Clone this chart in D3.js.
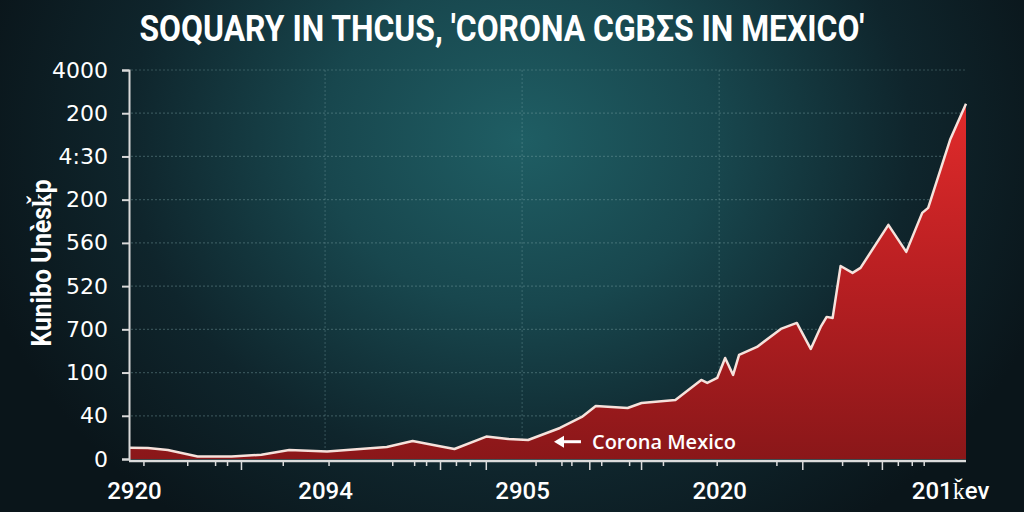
<!DOCTYPE html>
<html>
<head>
<meta charset="utf-8">
<script src="https://cdn.jsdelivr.net/npm/d3@7"></script>
<style>
  html, body { margin: 0; padding: 0; background: #0b171c; }
  svg { display: block; }
</style>
</head>
<body>
<svg id="chart" width="1024" height="512"></svg>
<script>
// ---- data ----
const titleText = "SOQUARY IN THCUS, 'CORONA CGBΣS IN MEXICO'";
const yAxisTitle = "Kunibo Unèsǩp";
const annotationText = "Corona Mexico";

const days = [0, 9, 19, 34, 51, 66, 80, 99, 129, 142,
  155, 163, 179, 190, 200, 216, 227, 234, 250, 257,
  274, 287, 290, 295, 299, 303, 306, 315, 327, 335,
  342, 347, 350, 353, 357, 363, 367, 381, 390, 398,
  401, 412, 420];
const cases = [131, 127, 104, 28, 28, 50, 104, 88, 139, 208,
  150, 116, 259, 231, 220, 359, 486, 613, 590, 648,
  683, 914, 880, 938, 1169, 972, 1204, 1296, 1505, 1574,
  1273, 1528, 1644, 1632, 2233, 2153, 2211, 2708, 2396, 2847,
  2905, 3692, 4110];

const yTickValues = [0, 500, 1000, 1500, 2000, 2500, 3000, 3500, 4000, 4500];
const yTickLabels = ["0", "40", "100", "700", "520", "560", "200", "4:30", "200", "4000"];

const xTickValues = [2, 98, 197, 296, 412];
const xTickLabels = ["2920", "2094", "2905", "2020", "201ǩev"];
const xGridValues = [98, 197, 296];
const xMinorTicks = [7, 29, 43, 49, 77, 100, 132, 143, 149, 164, 171, 204, 217, 222, 237, 251, 268, 295, 325, 358, 371, 386, 393, 399];
const xMajorTicks = [56, 156, 179, 231, 257, 338, 378];

const annotationDay = 213;
const annotationValue = 200;

// ---- layout ----
const W = 1024, H = 512;
const plot = { left: 129, right: 966, top: 70, bottom: 459 };

const svg = d3.select("#chart");
const defs = svg.append("defs");

const bg = defs.append("radialGradient").attr("id", "bg")
  .attr("gradientUnits", "userSpaceOnUse")
  .attr("cx", 520).attr("cy", 140).attr("r", 560)
  .attr("gradientTransform", "translate(520,140) scale(1,0.85) translate(-520,-140)");
bg.append("stop").attr("offset", 0).attr("stop-color", "#1f5e64");
bg.append("stop").attr("offset", 0.35).attr("stop-color", "#18474e");
bg.append("stop").attr("offset", 0.7).attr("stop-color", "#0f252c");
bg.append("stop").attr("offset", 1).attr("stop-color", "#0a151a");

const areaGrad = defs.append("linearGradient").attr("id", "areaGrad")
  .attr("gradientUnits", "userSpaceOnUse")
  .attr("x1", 0).attr("y1", 100).attr("x2", 0).attr("y2", 460);
areaGrad.append("stop").attr("offset", 0).attr("stop-color", "#e22b2b");
areaGrad.append("stop").attr("offset", 0.5).attr("stop-color", "#b81f22");
areaGrad.append("stop").attr("offset", 1).attr("stop-color", "#8a1719");

svg.append("rect").attr("width", W).attr("height", H).attr("fill", "url(#bg)");

const x = d3.scaleLinear().domain([0, 420]).range([plot.left + 1, plot.right]);
const y = d3.scaleLinear().domain([0, 4500]).range([plot.bottom, plot.top]);

// gridlines
const grid = svg.append("g");
grid.selectAll("line.h").data(yTickValues.slice(1)).join("line")
  .attr("x1", plot.left + 2).attr("x2", plot.right)
  .attr("y1", d => y(d)).attr("y2", d => y(d))
  .attr("stroke", "#7fa7a8").attr("stroke-opacity", 0.35)
  .attr("stroke-width", 1.2).attr("stroke-dasharray", "2,2");
grid.selectAll("line.v").data(xGridValues).join("line")
  .attr("x1", d => x(d)).attr("x2", d => x(d))
  .attr("y1", plot.top).attr("y2", plot.bottom)
  .attr("stroke", "#7fa7a8").attr("stroke-opacity", 0.3)
  .attr("stroke-width", 1.2).attr("stroke-dasharray", "2,2");

const data = days.map((d, i) => ({ day: d, v: cases[i] }));

const area = d3.area().x(d => x(d.day)).y0(y(0)).y1(d => y(d.v)).curve(d3.curveLinear);
const line = d3.line().x(d => x(d.day)).y(d => y(d.v)).curve(d3.curveLinear);

svg.append("path").datum(data).attr("d", area).attr("fill", "url(#areaGrad)");
svg.append("path").datum(data).attr("d", line)
  .attr("fill", "none").attr("stroke", "#f6e2dc").attr("stroke-width", 2.5)
  .attr("stroke-linejoin", "round");

// y axis
const yAxis = d3.axisLeft(y).tickValues(yTickValues)
  .tickFormat((d, i) => yTickLabels[i]).tickSize(7).tickPadding(14);
const gy = svg.append("g").attr("transform", `translate(${plot.left},0)`).call(yAxis);
gy.select(".domain").attr("stroke", "#d9d9d9").attr("stroke-width", 2);
gy.selectAll(".tick line").attr("stroke", "#d9d9d9").attr("stroke-width", 2);
gy.selectAll(".tick text").attr("fill", "#ffffff")
  .attr("font-family", "DejaVu Sans").attr("font-size", 22);

// x axis
const xBase = plot.bottom + 2;
svg.append("line").attr("x1", plot.left).attr("x2", plot.right)
  .attr("y1", xBase).attr("y2", xBase).attr("stroke", "#dcdcdc").attr("stroke-width", 2.5);
const xAxis = d3.axisBottom(x).tickValues(xTickValues)
  .tickFormat((d, i) => xTickLabels[i]).tickSize(0).tickPadding(21);
const gx = svg.append("g").attr("transform", `translate(0,${xBase})`).call(xAxis);
gx.select(".domain").remove();
gx.selectAll(".tick text").attr("fill", "#ffffff")
  .attr("font-family", "Roboto").attr("font-size", 24).attr("font-weight", 500);

svg.append("g").selectAll("line").data(xMinorTicks).join("line")
  .attr("x1", d => x(d)).attr("x2", d => x(d))
  .attr("y1", xBase).attr("y2", xBase + 5)
  .attr("stroke", "#dcdcdc").attr("stroke-width", 1.5);
svg.append("g").selectAll("line").data(xMajorTicks).join("line")
  .attr("x1", d => x(d)).attr("x2", d => x(d))
  .attr("y1", xBase).attr("y2", xBase + 9)
  .attr("stroke", "#dcdcdc").attr("stroke-width", 1.5);

// title
svg.append("text").attr("x", 502).attr("y", 41).attr("text-anchor", "middle")
  .attr("fill", "#ffffff").attr("font-family", "Roboto").attr("font-weight", 700)
  .attr("font-size", 36).attr("textLength", 725).attr("lengthAdjust", "spacingAndGlyphs")
  .text(titleText);

// y axis title
svg.append("text").attr("transform", "translate(51,263) rotate(-90)")
  .attr("text-anchor", "middle").attr("fill", "#ffffff")
  .attr("font-family", "Roboto").attr("font-weight", 700).attr("font-size", 27)
  .attr("textLength", 167).attr("lengthAdjust", "spacingAndGlyphs")
  .text(yAxisTitle);

// annotation
const ax = x(annotationDay), ay = y(annotationValue);
const ann = svg.append("g");
ann.append("line").attr("x1", ax + 27).attr("x2", ax + 6).attr("y1", ay).attr("y2", ay)
  .attr("stroke", "#ffffff").attr("stroke-width", 3);
ann.append("path")
  .attr("d", d3.line()([[ax, ay], [ax + 10, ay - 6], [ax + 10, ay + 6]]) + "Z")
  .attr("fill", "#ffffff");
ann.append("text").attr("x", ax + 38).attr("y", ay + 7)
  .attr("fill", "#ffffff").attr("font-family", "Open Sans").attr("font-weight", 600)
  .attr("font-size", 20).text(annotationText);
</script>
</body>
</html>
